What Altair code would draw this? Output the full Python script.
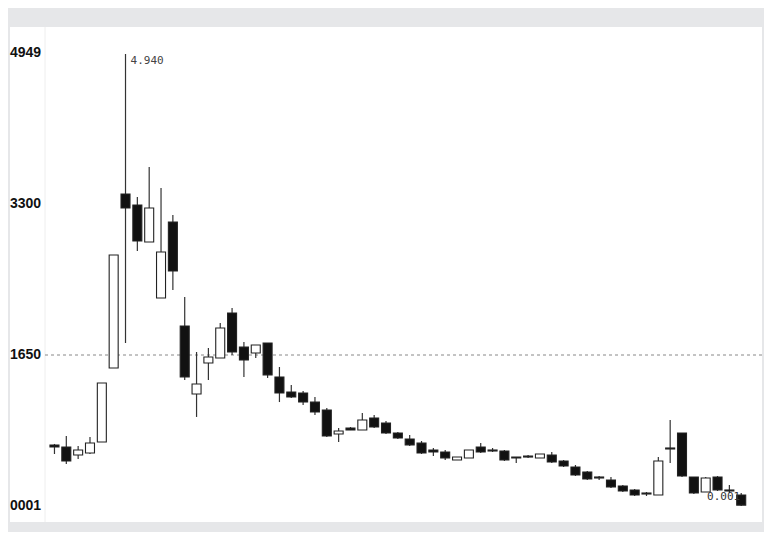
import altair as alt
import pandas as pd

# candle index (one per period)
idx = list(range(59))
opens = [667, 645, 557, 579, 699, 1508, 3409, 3289, 2885, 2273,
         3103, 1967, 1224, 1563, 1617, 2109, 1737, 1672, 1781, 1410,
         1246, 1235, 1136, 1049, 787, 852, 830, 962, 907, 798,
         732, 688, 612, 590, 503, 525, 645, 612, 601, 535,
         546, 525, 557, 492, 426, 372, 317, 284, 219, 175,
         142, 120, 634, 798, 317, 153, 317, 175, 120]
closes = [645, 492, 612, 688, 1344, 2743, 3256, 2896, 3256, 2776,
          2568, 1410, 1333, 1628, 1945, 1683, 1595, 1759, 1432, 1235,
          1191, 1136, 1027, 765, 820, 830, 940, 863, 798, 743,
          667, 579, 590, 525, 535, 612, 590, 601, 503, 525,
          535, 568, 481, 437, 339, 295, 306, 208, 164, 120,
          131, 492, 623, 328, 142, 306, 175, 164, 10]
highs = [678, 765, 656, 754, 1344, 2743, 4940, 3377, 3704, 3475,
         3180, 2284, 1683, 1727, 2000, 2164, 1792, 1759, 1781, 1519,
         1322, 1257, 1191, 1071, 852, 863, 1016, 994, 929, 809,
         776, 710, 634, 612, 535, 612, 688, 634, 612, 535,
         557, 568, 590, 503, 448, 383, 328, 317, 230, 186,
         153, 535, 940, 798, 317, 317, 328, 230, 142]
lows = [568, 459, 514, 568, 699, 1508, 1781, 2786, 2885, 2273,
        2360, 1377, 973, 1377, 1617, 1650, 1410, 1617, 1399, 1136,
        1180, 1104, 994, 754, 699, 830, 830, 852, 787, 732,
        656, 568, 546, 503, 503, 525, 579, 590, 492, 470,
        525, 525, 470, 426, 328, 284, 284, 197, 153, 109,
        109, 120, 470, 317, 131, 153, 164, 142, 1]

tick_values = [4949, 3300, 1650, 1]
tick_labels = ["4949", "3300", "1650", "0001"]
ref_level = [1650]
high_note = "4.940"
low_note = "0.001"

df = pd.DataFrame({"i": idx, "open": opens, "close": closes, "high": highs, "low": lows})
ticks = pd.DataFrame({"v": tick_values, "t": tick_labels})
ref = pd.DataFrame({"v": ref_level})
hi_df = pd.DataFrame({"i": [6], "v": [4940], "t": [high_note]})
lo_df = pd.DataFrame({"i": [58], "v": [1], "t": [low_note]})

xs = alt.Scale(domain=[-3.3333, 59.3333], nice=False, zero=False)
ys = alt.Scale(domain=[-174.8, 5234.1], nice=False, zero=False)

base = alt.Chart(df)

left_line = alt.Chart(ref).mark_rule(color="#eeeeee", strokeWidth=1).encode(
    x=alt.value(35), y=alt.value(0), y2=alt.value(495))

dash = alt.Chart(ref).mark_rule(color="#888888", strokeDash=[3, 3], strokeWidth=1).encode(
    y=alt.Y("v:Q", scale=ys, axis=None), x=alt.value(35), x2=alt.value(752))

wicks = base.mark_rule(color="#333333", strokeWidth=1.2).encode(
    x=alt.X("i:Q", scale=xs, axis=None),
    y=alt.Y("low:Q", scale=ys, axis=None),
    y2="high:Q")

bodies = base.mark_bar(size=9, stroke="#222222", strokeWidth=1.1).encode(
    x=alt.X("i:Q", scale=xs, axis=None),
    y=alt.Y("open:Q", scale=ys, axis=None),
    y2="close:Q",
    fill=alt.condition(alt.datum.close >= alt.datum.open, alt.value("white"), alt.value("#111111")))

labels = alt.Chart(ticks).mark_text(
    align="left", baseline="middle", font="Liberation Sans", fontSize=14,
    fontWeight="bold", color="#111111").encode(
    x=alt.value(0), y=alt.Y("v:Q", scale=ys, axis=None), text="t:N")

hi_text = alt.Chart(hi_df).mark_text(
    align="left", baseline="middle", dx=5, dy=7, font="DejaVu Sans Mono",
    fontSize=11, color="#444444").encode(
    x=alt.X("i:Q", scale=xs, axis=None), y=alt.Y("v:Q", scale=ys, axis=None), text="t:N")

lo_text = alt.Chart(lo_df).mark_text(
    align="right", baseline="middle", dx=-1, dy=-9, font="DejaVu Sans Mono",
    fontSize=11, color="#333333").encode(
    x=alt.X("i:Q", scale=xs, axis=None), y=alt.Y("v:Q", scale=ys, axis=None), text="t:N")

chart = alt.layer(left_line, dash, wicks, bodies, labels, hi_text, lo_text).properties(
    width=752, height=495,
    autosize=alt.AutoSizeParams(type="none"),
    padding={"left": 2, "top": 19, "right": 2, "bottom": 10},
    background="#e6e7e9",
).configure_view(fill="white", stroke=None)

chart.save("out.html", embed_options={"renderer": "svg", "actions": False})
